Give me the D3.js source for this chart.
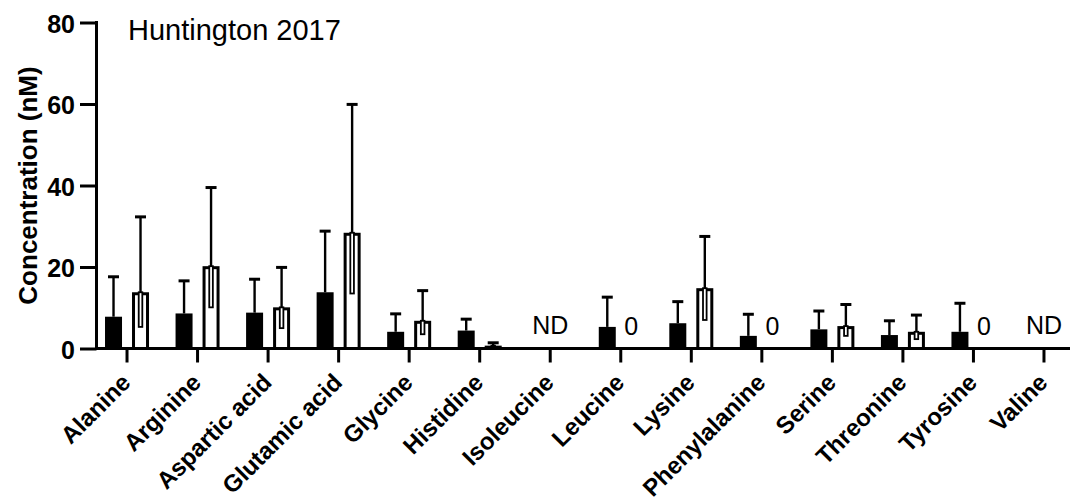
<!DOCTYPE html>
<html>
<head>
<meta charset="utf-8">
<script src="https://cdn.jsdelivr.net/npm/d3@7"></script>
<style>
  html, body { margin: 0; padding: 0; background: #fff; }
  svg { display: block; }
  text { font-family: "Liberation Sans", Arial, Helvetica, sans-serif; fill: #000; }
</style>
</head>
<body>
<svg id="chart" width="1070" height="502"></svg>
<script>
// Amino acids measured
const categories = ["Alanine", "Arginine", "Aspartic acid", "Glutamic acid", "Glycine",
  "Histidine", "Isoleucine", "Leucine", "Lysine", "Phenylalanine", "Serine",
  "Threonine", "Tyrosine", "Valine"];

// Solid bars: mean and top of error bar (nM); null = not detected
const solidMean  = [7.8, 8.6, 8.8, 13.8, 4.1, 4.4, null, 5.3, 6.2, 3.1, 4.7, 3.3, 4.1, null];
const solidUpper = [17.6, 16.6, 17.0, 28.8, 8.5, 7.2, null, 12.6, 11.5, 8.4, 9.2, 6.8, 11.1, null];

// Open bars: mean, top of error bar and lower end of the inner error line (nM)
const openMean  = [13.8, 20.2, 10.1, 28.4, 6.8, 0.7, null, 0, 14.8, 0, 5.5, 4.1, 0, null];
const openUpper = [32.3, 39.5, 19.9, 59.9, 14.2, 1.4, null, 0, 27.5, 0, 10.8, 8.2, 0, null];
const openLower = [5.3, 10.1, 5.0, 13.5, 3.5, 0.4, null, null, 7.0, null, 3.1, 2.3, null, null];

const yTicks = [0, 20, 40, 60, 80];
const notDetectedLabel = "ND";
const titleText = "Huntington 2017";
const yTitle = "Concentration (nM)";

const svg = d3.select("#chart");
const FONT = '"Liberation Sans", Arial, Helvetica, sans-serif';

const x = d3.scaleBand().domain(categories).range([91.75, 1079.25]).padding(0);
const sub = d3.scaleBand().domain(["solid", "open"])
  .range([-22, 22]).paddingInner(10 / 27).paddingOuter(0);
const y = d3.scaleLinear().domain([0, 80]).range([348.5, 22.5]);

const axisX = 96.5;
const y0 = y(0);
const bw = sub.bandwidth();
const cx = c => x(c) + x.bandwidth() / 2;

const plot = svg.append("g");

// error bars (line + cap)
function errorBar(g, xc, from, to) {
  g.append("line").attr("x1", xc).attr("x2", xc)
    .attr("y1", y(from)).attr("y2", y(to))
    .attr("stroke", "#000").attr("stroke-width", 2.4);
  g.append("line").attr("x1", xc - 5.5).attr("x2", xc + 5.5)
    .attr("y1", y(to)).attr("y2", y(to))
    .attr("stroke", "#000").attr("stroke-width", 3);
}

categories.forEach((c, i) => {
  const g = plot.append("g");
  const xs = cx(c) + sub("solid");
  const xo = cx(c) + sub("open");

  if (solidMean[i] !== null) {
    errorBar(g, xs + bw / 2, solidMean[i], solidUpper[i]);
    g.append("rect").attr("x", xs).attr("width", bw)
      .attr("y", y(solidMean[i])).attr("height", y0 - y(solidMean[i]))
      .attr("fill", "#000");
  }

  if (openMean[i] !== null && openMean[i] > 0) {
    errorBar(g, xo + bw / 2, openMean[i], openUpper[i]);
    g.append("rect").attr("x", xo + 1.5).attr("width", bw - 3)
      .attr("y", y(openMean[i]) + 1.5).attr("height", Math.max(0, y0 - y(openMean[i]) - 1.5))
      .attr("fill", "#fff").attr("stroke", "#000").attr("stroke-width", 3);
    if (openLower[i] !== null) {
      g.append("rect").attr("x", xo + bw / 2 - 1.8).attr("width", 3.6)
        .attr("y", y(openMean[i])).attr("height", y(openLower[i]) - y(openMean[i]))
        .attr("fill", "#fff").attr("stroke", "#000").attr("stroke-width", 1.8);
    }
  } else if (openMean[i] === 0) {
    // zero value written next to the solid bar
    g.append("text").attr("x", xo + bw / 2 - 3).attr("y", 334.5)
      .attr("text-anchor", "middle").style("font-size", "25px")
      .text(String(openMean[i]));
  }

  if (solidMean[i] === null && openMean[i] === null) {
    g.append("text").attr("x", cx(c)).attr("y", 333.5)
      .attr("text-anchor", "middle").style("font-size", "25px")
      .text(notDetectedLabel);
  }
});

// Y axis
const yAxis = svg.append("g").attr("transform", `translate(${axisX},0)`)
  .call(d3.axisLeft(y).tickValues(yTicks).tickSize(16.5).tickSizeOuter(0).tickPadding(5));
yAxis.select(".domain").remove();
yAxis.append("line").attr("x1", 0).attr("x2", 0)
  .attr("y1", y(80) - 1.5).attr("y2", y0)
  .attr("stroke", "#000").attr("stroke-width", 3);
yAxis.selectAll(".tick line").attr("stroke", "#000").attr("stroke-width", 3);
yAxis.selectAll(".tick text")
  .attr("dy", "0.38em")
  .style("font-family", FONT).style("font-size", "25px").style("font-weight", "bold");

// X axis
const xAxis = svg.append("g").attr("transform", `translate(0,${y0})`)
  .call(d3.axisBottom(x).tickSize(14).tickSizeOuter(0));
xAxis.select(".domain").remove();
xAxis.append("line").attr("x1", axisX - 1.5).attr("x2", 1075)
  .attr("y1", 0).attr("y2", 0)
  .attr("stroke", "#000").attr("stroke-width", 3);
xAxis.selectAll(".tick line").attr("stroke", "#000").attr("stroke-width", 3);
xAxis.selectAll(".tick text").remove();

// rotated category labels
svg.append("g").selectAll("text").data(categories).join("text")
  .attr("transform", c => `translate(${cx(c) + 5},${384}) rotate(-45)`)
  .attr("text-anchor", "end")
  .style("font-size", "24px").style("font-weight", "bold")
  .text(c => c);

// Y title
svg.append("text")
  .attr("transform", `translate(37,${(y(0) + y(80)) / 2}) rotate(-90)`)
  .attr("text-anchor", "middle")
  .style("font-size", "26px").style("font-weight", "bold")
  .text(yTitle);

// Title
svg.append("text").attr("x", 128).attr("y", 39.5)
  .style("font-size", "29px")
  .text(titleText);
</script>
</body>
</html>
